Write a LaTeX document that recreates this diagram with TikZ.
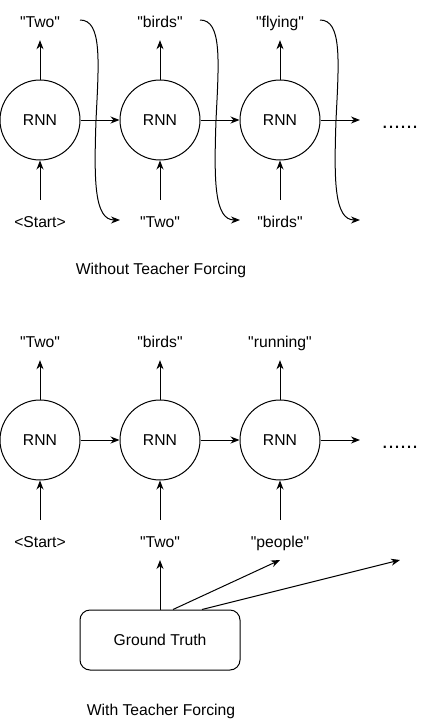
\documentclass[tikz,border=0pt]{standalone}
\usepackage{fontspec}
\newfontfamily\lsans{Liberation Sans}
\usetikzlibrary{arrows.meta}
\newcommand\dq{"}
\begin{document}
\begin{tikzpicture}[x=1pt,y=-1pt,
  every node/.style={font=\lsans\fontsize{15.7}{18}\selectfont},
  rnn/.style={draw,circle,line width=1pt,minimum size=80pt,inner sep=0pt},
  lbl/.style={inner sep=0pt,text height=11.5pt,text depth=3.5pt,anchor=base},
  dots/.style={inner sep=0pt,anchor=base,font=\lsans\fontsize{21.6}{24}\selectfont},
  conn/.style={line width=1pt,-{Stealth[length=9pt,width=7pt]}},
  outarr/.style={conn,shorten >=9.5pt},
  inarr/.style={conn,shorten <=15.5pt},
  gbox/.style={draw,line width=1pt,rounded corners=10pt,minimum width=160pt,minimum height=60pt,inner sep=0pt}
]
\useasboundingbox (0,0) rectangle (421,721);

% ---------------- top: without teacher forcing
\node[rnn] (r1) at (40,120) {RNN};
\node[rnn] (r2) at (160,120) {RNN};
\node[rnn] (r3) at (280,120) {RNN};
\node[lbl] (o1) at (40,27) {\dq Two\dq};
\node[lbl] (o2) at (160,27) {\dq birds\dq};
\node[lbl] (o3) at (280,27) {\dq flying\dq};
\node[lbl] (i1) at (40,227) {<Start>};
\node[lbl] (i2) at (160,227) {\dq Two\dq};
\node[lbl] (i3) at (280,227) {\dq birds\dq};
\node[dots] (d1) at (400,128) {......};
\coordinate (r3n) at (360,120);

\draw[outarr] (r1) -- (o1);
\draw[outarr] (r2) -- (o2);
\draw[outarr] (r3) -- (o3);
\draw[inarr] (i1) -- (r1);
\draw[inarr] (i2) -- (r2);
\draw[inarr] (i3) -- (r3);
\draw[conn] (r1) -- (r2);
\draw[conn] (r2) -- (r3);
\draw[conn] (r3.east) -- (r3n);

\coordinate (c1s) at (80,20);  \coordinate (c1e) at (120,220);
\coordinate (c2s) at (200,20); \coordinate (c2e) at (240,220);
\coordinate (c3s) at (320,20); \coordinate (c3e) at (360,220);
\foreach \a/\b in {c1s/c1e,c2s/c2e,c3s/c3e}{
  \draw[conn] (\a) .. controls ([xshift=22pt]\a) and ([xshift=19pt,yshift=-40pt]\a) .. ([xshift=16pt,yshift=-100pt]\a)
     .. controls ([xshift=14pt,yshift=-160pt]\a) and ([xshift=-26pt]\b) .. (\b);
}
\node (cap1) at (161,270) {Without Teacher Forcing};

% ---------------- bottom: with teacher forcing
\node[rnn] (s1) at (40,440) {RNN};
\node[rnn] (s2) at (160,440) {RNN};
\node[rnn] (s3) at (280,440) {RNN};
\node[lbl] (p1) at (40,347) {\dq Two\dq};
\node[lbl] (p2) at (160,347) {\dq birds\dq};
\node[lbl] (p3) at (280,347) {\dq running\dq};
\node[lbl] (j1) at (40,547) {<Start>};
\node[lbl] (j2) at (160,547) {\dq Two\dq};
\node[lbl] (j3) at (280,547) {\dq people\dq};
\node[dots] (d2) at (400,448) {......};
\coordinate (s3n) at (360,440);

\draw[outarr] (s1) -- (p1);
\draw[outarr] (s2) -- (p2);
\draw[outarr] (s3) -- (p3);
\draw[inarr] (j1) -- (s1);
\draw[inarr] (j2) -- (s2);
\draw[inarr] (j3) -- (s3);
\draw[conn] (s1) -- (s2);
\draw[conn] (s2) -- (s3);
\draw[conn] (s3.east) -- (s3n);

\node[gbox] (gt) at (160,640) {Ground Truth};
\coordinate (g2) at (160,560);
\coordinate (g3) at (280,560);
\coordinate (g4) at (400,560);
\draw[conn] (gt.north) -- (g2);
\draw[conn] ([xshift=13pt]gt.north) -- (g3);
\draw[conn] ([xshift=42pt]gt.north) -- (g4);

\node (cap2) at (161,711) {With Teacher Forcing};
\end{tikzpicture}
\end{document}
